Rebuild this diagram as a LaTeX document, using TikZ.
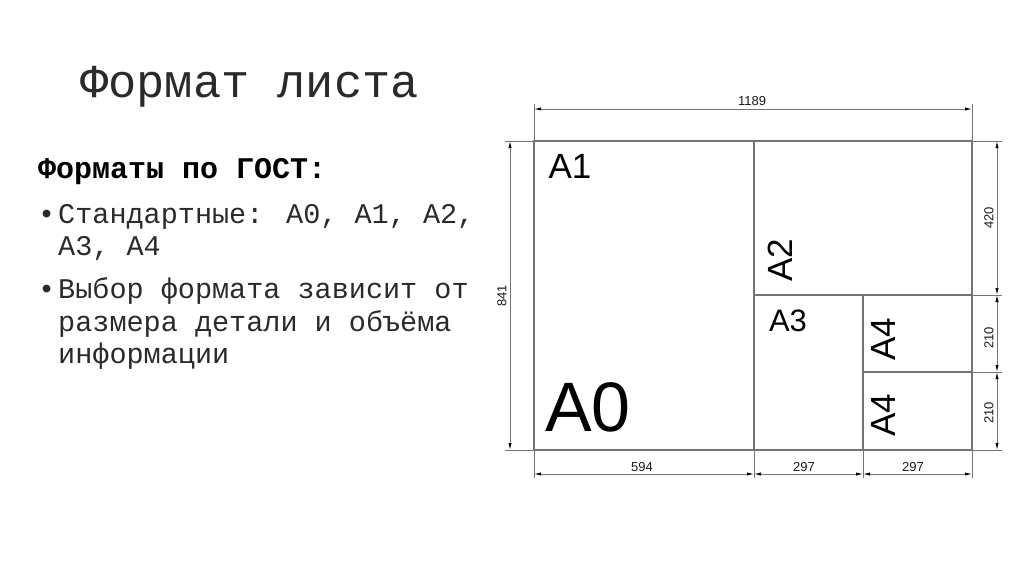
\documentclass[tikz,border=0pt]{standalone}
\usepackage{fontspec}
\setmainfont{Liberation Sans}
\newfontfamily\monofont{Liberation Mono}
\usetikzlibrary{arrows.meta}
\definecolor{linegray}{HTML}{747474}
\definecolor{textgray}{HTML}{2A2A2A}
\tikzset{
  sheetline/.style={draw=linegray, line width=1.1pt},
  extline/.style={draw=linegray, line width=0.8pt},
  dimtip/.tip={Latex[length=7pt,width=3.2pt,black]},
  dimline/.style={draw=linegray, line width=0.8pt, dimtip-dimtip},
  dimlabel/.style={inner sep=0pt, font=\fontsize{13}{15}\selectfont, text=black!90},
  fmtlabel/.style={inner sep=0pt, text=black},
  monotext/.style={inner sep=0pt, anchor=base west, text=textgray, font=\monofont\fontsize{28.5}{32}\selectfont}
}
\begin{document}
\begin{tikzpicture}[x=1pt,y=-1pt]
\useasboundingbox (0,0) rectangle (1024,574);
% left text
\node[inner sep=0pt, anchor=base west, text=textgray, font=\monofont\fontsize{47}{50}\selectfont] (title) at (80,97) {Формат листа};
\node[inner sep=0pt, anchor=base west, text=black, font=\monofont\bfseries\fontsize{30}{32}\selectfont] (head) at (38,178) {Форматы по ГОСТ:};
\node[monotext] (b1) at (38,223) {•};
\node[monotext] (l1) at (58,223) {Стандартные: А0, А1, А2,};
\node[monotext] (l2) at (58,255) {А3, А4};
\node[monotext] (b2) at (38,298) {•};
\node[monotext] (l3) at (58,298) {Выбор формата зависит от};
\node[monotext] (l4) at (58,331) {размера детали и объёма};
\node[monotext] (l5) at (58,363) {информации};
% sheet coordinates
\coordinate (TL) at (534,141);
\coordinate (TR) at (972,141);
\coordinate (BL) at (534,450);
\coordinate (BR) at (972,450);
\coordinate (T1) at (754,141);
\coordinate (B1) at (754,450);
\coordinate (M1) at (754,295);
\coordinate (MR) at (972,295);
\coordinate (M2) at (863,295);
\coordinate (B2) at (863,450);
\coordinate (N1) at (863,372);
\coordinate (NR) at (972,372);
% sheet
\draw[sheetline] (TL) rectangle (BR);
\draw[sheetline] (T1) -- (B1);
\draw[sheetline] (M1) -- (MR);
\draw[sheetline] (M2) -- (B2);
\draw[sheetline] (N1) -- (NR);
% extension lines
\coordinate (eTLu) at (534,104);
\coordinate (eTRu) at (972,104);
\coordinate (eBLd) at (534,478);
\coordinate (eB1d) at (754,478);
\coordinate (eB2d) at (863,478);
\coordinate (eBRd) at (972,478);
\coordinate (eTLl) at (505,141);
\coordinate (eBLl) at (505,450);
\coordinate (eTRr) at (1002,141);
\coordinate (eMRr) at (1002,295);
\coordinate (eNRr) at (1002,372);
\coordinate (eBRr) at (1002,450);
\draw[extline] (TL) -- (eTLu);
\draw[extline] (TR) -- (eTRu);
\draw[extline] (BL) -- (eBLd);
\draw[extline] (B1) -- (eB1d);
\draw[extline] (B2) -- (eB2d);
\draw[extline] (BR) -- (eBRd);
\draw[extline] (TL) -- (eTLl);
\draw[extline] (BL) -- (eBLl);
\draw[extline] (TR) -- (eTRr);
\draw[extline] (MR) -- (eMRr);
\draw[extline] (NR) -- (eNRr);
\draw[extline] (BR) -- (eBRr);
% dimension lines
\coordinate (dTa) at (534,109);
\coordinate (dTb) at (972,109);
\draw[dimline] (dTa) -- (dTb);
\coordinate (dLa) at (510,141);
\coordinate (dLb) at (510,450);
\draw[dimline] (dLa) -- (dLb);
\coordinate (dR0) at (997,141);
\coordinate (dR1) at (997,295);
\coordinate (dR2) at (997,372);
\coordinate (dR3) at (997,450);
\draw[dimline] (dR0) -- (dR1);
\draw[dimline] (dR1) -- (dR2);
\draw[dimline] (dR2) -- (dR3);
\coordinate (dB0) at (534,474);
\coordinate (dB1) at (754,474);
\coordinate (dB2) at (863,474);
\coordinate (dB3) at (972,474);
\draw[dimline] (dB0) -- (dB1);
\draw[dimline] (dB1) -- (dB2);
\draw[dimline] (dB2) -- (dB3);
% dimension labels
\node[dimlabel] (t1189) at (752,101) {1189};
\node[dimlabel, rotate=90] (t841) at (502,296) {841};
\node[dimlabel, rotate=90] (t420) at (989,218) {420};
\node[dimlabel, rotate=90] (t210a) at (989,338) {210};
\node[dimlabel, rotate=90] (t210b) at (989,413) {210};
\node[dimlabel] (t594) at (642,467) {594};
\node[dimlabel] (t297a) at (804,467) {297};
\node[dimlabel] (t297b) at (913,467) {297};
% format labels
\node[fmtlabel, font=\fontsize{35}{40}\selectfont] (A1) at (570,166) {A1};
\node[fmtlabel, font=\fontsize{70}{80}\selectfont] (A0) at (588,407) {A0};
\node[fmtlabel, font=\fontsize{35}{40}\selectfont, rotate=90] (A2) at (780,260) {A2};
\node[fmtlabel, font=\fontsize{31}{36}\selectfont] (A3) at (788,321) {A3};
\node[fmtlabel, font=\fontsize{35}{40}\selectfont, rotate=90] (A4a) at (883,339) {A4};
\node[fmtlabel, font=\fontsize{35}{40}\selectfont, rotate=90] (A4b) at (883,415) {A4};
\end{tikzpicture}
\end{document}
